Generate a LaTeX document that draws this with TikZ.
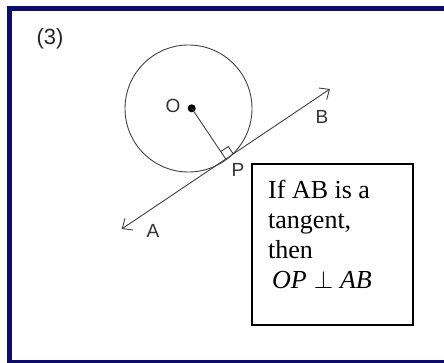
\documentclass[tikz,border=0pt]{standalone}
\usepackage{fontspec}
\setmainfont{Liberation Serif}
\newfontfamily\labelfont{Liberation Sans}
\usetikzlibrary{arrows.meta,calc}
\definecolor{framenavy}{RGB}{12,12,110}
\tikzset{
    figline/.style={black!75, line width=0.9pt},
    ptlabel/.style={black!80, font=\labelfont\fontsize{19}{19}\selectfont},
    tangentbarb/.tip={Straight Barb[length=8pt,width=14pt]},
}

\begin{document}
\begin{tikzpicture}[x=1pt, y=-1pt]
    \useasboundingbox (0,0) rectangle (444,363);
    
    % 外框
    \draw[framenavy, line width=5pt] (444,8.5) -- (9.5,8.5) -- (9.5,363);
    \draw[framenavy, line width=3pt] (9.5,361) -- (444,361);
    
    % 题号
    \node[black!85, font=\labelfont\fontsize{22}{22}\selectfont] (num) at (50,39) {(3)};
    
    % 圆与圆心
    \coordinate (C) at (188.5,108.5);
    \draw[figline] (C) circle (63.5);
    \coordinate (O) at (191.7,108.3);
    \fill (O) circle (4);
    \node[ptlabel] (labO) at (173,106) {O};
    
    % 切线 AB
    \coordinate (A) at (121.7,229);
    \coordinate (B) at (330,89);
    \draw[figline, tangentbarb-tangentbarb] (A) -- (B);
    \node[ptlabel] (labA) at (153,231) {A};
    \node[ptlabel] (labB) at (322,117) {B};
    
    % 切点 P 与半径 OP
    \coordinate (P) at ($(A)!(O)!(B)$);
    \draw[figline] (O) -- (P);
    \node[ptlabel] (labP) at (238,170) {P};
    
    % 直角符号
    \coordinate (Q1) at ($(P)!9pt!(B)$);
    \coordinate (Q3) at ($(P)!9pt!(O)$);
    \draw[figline] (Q1) -- ($(Q1)+(Q3)-(P)$) -- (Q3);
    
    % 结论框
    \node[draw, line width=1.4pt, minimum width=161pt, minimum height=161pt, inner sep=0] (box) at (332.5,244.5) {};
    \node[anchor=north west, inner sep=0, align=left, font=\fontsize{26}{30}\selectfont] (note) at (268,180) {If AB is a\\tangent,\\then\\\hspace{4pt}$\mathit{OP}\perp\mathit{AB}$};
\end{tikzpicture}
\end{document}
